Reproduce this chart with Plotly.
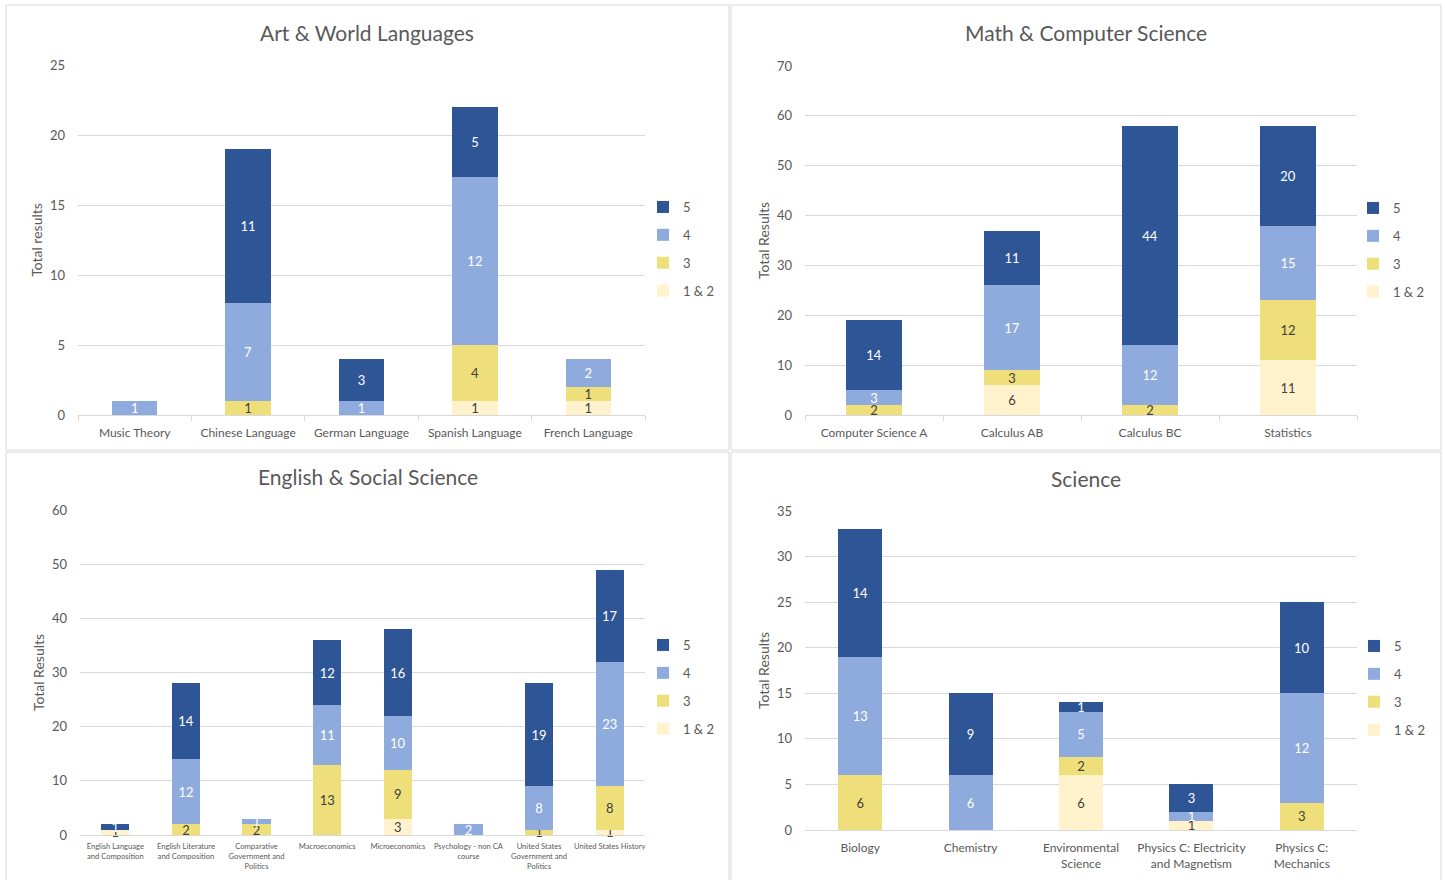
import plotly.graph_objects as go

W, H = 1445, 880

# ---------------- data ----------------
art_cats = ["Music Theory", "Chinese Language", "German Language", "Spanish Language", "French Language"]
art_s12 = [0, 0, 0, 1, 1]
art_s3 = [0, 1, 0, 4, 1]
art_s4 = [1, 7, 1, 12, 2]
art_s5 = [0, 11, 3, 5, 0]

math_cats = ["Computer Science A", "Calculus AB", "Calculus BC", "Statistics"]
math_s12 = [0, 6, 0, 11]
math_s3 = [2, 3, 2, 12]
math_s4 = [3, 17, 12, 15]
math_s5 = [14, 11, 44, 20]

eng_cats = ["English Language<br>and Composition", "English Literature<br>and Composition",
            "Comparative<br>Government and<br>Politics", "Macroeconomics", "Microeconomics",
            "Psychology - non CA<br>course", "United States<br>Government and<br>Politics",
            "United States History"]
eng_s12 = [1, 0, 0, 0, 3, 0, 0, 1]
eng_s3 = [0, 2, 2, 13, 9, 0, 1, 8]
eng_s4 = [0, 12, 1, 11, 10, 2, 8, 23]
eng_s5 = [1, 14, 0, 12, 16, 0, 19, 17]

sci_cats = ["Biology", "Chemistry", "Environmental<br>Science",
            "Physics C: Electricity<br>and Magnetism", "Physics C:<br>Mechanics"]
sci_s12 = [0, 0, 6, 1, 0]
sci_s3 = [6, 0, 2, 0, 3]
sci_s4 = [13, 6, 5, 1, 12]
sci_s5 = [14, 9, 1, 3, 10]

series_names = ["1 & 2", "3", "4", "5"]
colors = ["#FFF2CC", "#EFDF7A", "#8FAADC", "#2E5596"]
text_colors = ["#404040", "#404040", "#FFFFFF", "#FFFFFF"]

FONT = "Lato, 'Open Sans', sans-serif"
GRAY = "#595959"
GRID = "#D9D9D9"

# pixel layout of each panel
panels = [
    dict(title="Art & World Languages", ytitle="Total results", cats=art_cats,
         data=[art_s12, art_s3, art_s4, art_s5], yr=25, dt=5,
         x0=78, x1=645, ybot=415, ytop=65, box=(6, 5, 729, 450),
         tcx=367, tcy=32, ticks=True, xfs=12, xst=7, leg=(643, 192)),
    dict(title="Math & Computer Science", ytitle="Total Results", cats=math_cats,
         data=[math_s12, math_s3, math_s4, math_s5], yr=70, dt=10,
         x0=805, x1=1357, ybot=415, ytop=66, box=(731, 5, 1441, 450),
         tcx=1086, tcy=33, ticks=True, xfs=12, xst=7, leg=(1353, 193)),
    dict(title="English & Social Science", ytitle="Total Results", cats=eng_cats,
         data=[eng_s12, eng_s3, eng_s4, eng_s5], yr=60, dt=10,
         x0=80, x1=645, ybot=835, ytop=510, box=(6, 452, 729, 884),
         tcx=368, tcy=477, ticks=False, xfs=7.6, xst=4, leg=(643, 630)),
    dict(title="Science", ytitle="Total Results", cats=sci_cats,
         data=[sci_s12, sci_s3, sci_s4, sci_s5], yr=35, dt=5,
         x0=805, x1=1357, ybot=830, ytop=511, box=(731, 452, 1441, 884),
         tcx=1086, tcy=478, ticks=False, xfs=12, xst=7, leg=(1354, 631)),
]

fig = go.Figure()
layout = dict(
    width=W, height=H, margin=dict(l=0, r=0, t=0, b=0, autoexpand=False),
    paper_bgcolor="white", plot_bgcolor="white",
    font=dict(family=FONT, color=GRAY, size=12),
    barmode="stack", bargap=0.6,
    uniformtext=dict(minsize=13, mode="show"),
)
shapes = []
annotations = []

for i, p in enumerate(panels):
    n = i + 1
    xa = "x" if n == 1 else f"x{n}"
    ya = "y" if n == 1 else f"y{n}"
    lg = "legend" if n == 1 else f"legend{n}"
    for k in range(4):
        vals = p["data"][k]
        fig.add_trace(go.Bar(
            x=p["cats"], y=vals, name=series_names[k],
            marker=dict(color=colors[k], line=dict(width=0)),
            text=[str(v) if v else "" for v in vals],
            textposition="inside", insidetextanchor="middle", textangle=0,
            constraintext="none", cliponaxis=False,
            textfont=dict(family=FONT, size=13, color=text_colors[k]),
            xaxis=xa, yaxis=ya, legend=lg, legendgroup=f"p{n}_{k}",
            legendrank=10 - k,
            hoverinfo="x+y+name",
        ))
    xkey = "xaxis" if n == 1 else f"xaxis{n}"
    ykey = "yaxis" if n == 1 else f"yaxis{n}"
    layout[xkey] = dict(
        domain=[p["x0"] / W, p["x1"] / W], anchor=ya, type="category",
        showgrid=False, showline=True, linecolor=GRID, linewidth=1,
        ticks="outside" if p["ticks"] else "", tickson="boundaries",
        ticklen=5, tickcolor=GRID, ticklabelstandoff=p["xst"],
        tickfont=dict(size=p["xfs"], color=GRAY, family=FONT),
        tickangle=0, fixedrange=True, automargin=False,
    )
    layout[ykey] = dict(
        domain=[(H - p["ybot"]) / H, (H - p["ytop"]) / H], anchor=xa,
        range=[0, p["yr"]], dtick=p["dt"], showgrid=True, gridcolor=GRID,
        zeroline=False, showline=False,
        tickfont=dict(size=13, color=GRAY, family=FONT),
        title=dict(text=p["ytitle"], font=dict(size=14, color=GRAY, family=FONT), standoff=4),
        ticklabelstandoff=12, fixedrange=True, automargin=False,
    )
    layout[lg] = dict(
        x=p["leg"][0] / W, y=(H - p["leg"][1]) / H, xanchor="left", yanchor="top",
        traceorder="grouped", tracegroupgap=8, bgcolor="rgba(0,0,0,0)",
        font=dict(size=13, color=GRAY, family=FONT), itemwidth=30,
    )
    bx0, by0, bx1, by1 = p["box"]
    shapes.append(dict(type="rect", xref="paper", yref="paper",
                       x0=bx0 / W, x1=bx1 / W, y0=(H - by1) / H, y1=(H - by0) / H,
                       line=dict(color=GRID, width=1), fillcolor="rgba(0,0,0,0)", layer="below"))
    annotations.append(dict(text=p["title"], xref="paper", yref="paper",
                            x=p["tcx"] / W, y=(H - p["tcy"]) / H, xanchor="center", yanchor="middle",
                            showarrow=False, font=dict(size=21, color=GRAY, family=FONT)))

layout["shapes"] = shapes
layout["annotations"] = annotations
fig.update_layout(**layout)
fig.write_html(
    "out.html",
    config={"displayModeBar": False},
    post_script="document.body.style.margin='0';document.body.style.overflow='hidden';",
)
